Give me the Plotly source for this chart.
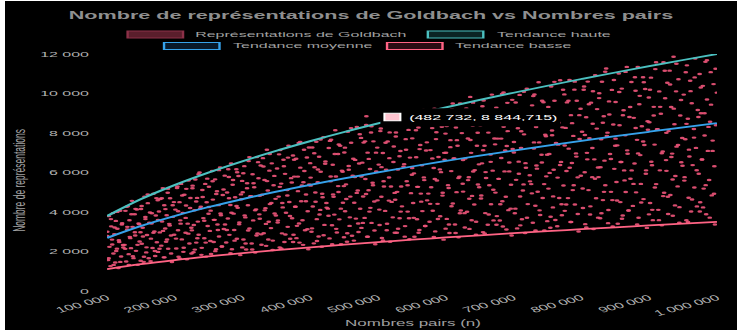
import plotly.graph_objects as go

# ---------------- Données ----------------
nombres_pairs = [
    100400, 101700, 102900, 103600, 105100, 106200, 107400, 108800, 109500, 110900, 112200, 113000, 114600, 115300, 116900, 118100, 119400, 120800, 122300, 123700,
    125900, 127200, 128300, 129800, 130600, 132000, 133100, 134300, 135400, 136800, 137700, 139100, 140900, 141600, 142800, 144000, 145300, 146600, 148100, 149400,
    150200, 151300, 152600, 154100, 155300, 156700, 157900, 159000, 160200, 161500, 163400, 164800, 165700, 167200, 168600, 169900, 171100, 172000, 173500, 174800,
    175400, 176700, 177900, 178600, 180100, 181200, 182400, 183800, 184500, 185900, 187200, 188000, 189600, 190300, 191900, 193100, 194400, 195800, 197300, 198700,
    200900, 202200, 203300, 204800, 205600, 207000, 208100, 209300, 210400, 211800, 212700, 214100, 215900, 216600, 217800, 219000, 220300, 221600, 223100, 224400,
    225200, 226300, 227600, 229100, 230300, 231700, 232900, 234000, 235200, 236500, 238400, 239800, 240700, 242200, 243600, 244900, 246100, 247000, 248500, 249800,
    250400, 251700, 252900, 253600, 255100, 256200, 257400, 258800, 259500, 260900, 262200, 263000, 264600, 265300, 266900, 268100, 269400, 270800, 272300, 273700,
    275900, 277200, 278300, 279800, 280600, 282000, 283100, 284300, 285400, 286800, 287700, 289100, 290900, 291600, 292800, 294000, 295300, 296600, 298100, 299400,
    300200, 301300, 302600, 304100, 305300, 306700, 307900, 309000, 310200, 311500, 313400, 314800, 315700, 317200, 318600, 319900, 321100, 322000, 323500, 324800,
    325400, 326700, 327900, 328600, 330100, 331200, 332400, 333800, 334500, 335900, 337200, 338000, 339600, 340300, 341900, 343100, 344400, 345800, 347300, 348700,
    350900, 352200, 353300, 354800, 355600, 357000, 358100, 359300, 360400, 361800, 362700, 364100, 365900, 366600, 367800, 369000, 370300, 371600, 373100, 374400,
    375200, 376300, 377600, 379100, 380300, 381700, 382900, 384000, 385200, 386500, 388400, 389800, 390700, 392200, 393600, 394900, 396100, 397000, 398500, 399800,
    400400, 401700, 402900, 403600, 405100, 406200, 407400, 408800, 409500, 410900, 412200, 413000, 414600, 415300, 416900, 418100, 419400, 420800, 422300, 423700,
    425900, 427200, 428300, 429800, 430600, 432000, 433100, 434300, 435400, 436800, 437700, 439100, 440900, 441600, 442800, 444000, 445300, 446600, 448100, 449400,
    450200, 451300, 452600, 454100, 455300, 456700, 457900, 459000, 460200, 461500, 463400, 464800, 465700, 467200, 468600, 469900, 471100, 472000, 473500, 474800,
    475400, 476700, 477900, 478600, 480100, 481200, 482400, 482732, 483800, 484500, 485900, 487200, 488000, 489600, 490300, 491900, 493100, 494400, 495800, 497300, 498700,
    500900, 502200, 503300, 504800, 505600, 507000, 508100, 509300, 510400, 511800, 512700, 514100, 515900, 516600, 517800, 519000, 520300, 521600, 523100, 524400,
    525200, 526300, 527600, 529100, 530300, 531700, 532900, 534000, 535200, 536500, 538400, 539800, 540700, 542200, 543600, 544900, 546100, 547000, 548500, 549800,
    550400, 551700, 552900, 553600, 555100, 556200, 557400, 558800, 559500, 560900, 562200, 563000, 564600, 565300, 566900, 568100, 569400, 570800, 572300, 573700,
    575900, 577200, 578300, 579800, 580600, 582000, 583100, 584300, 585400, 586800, 587700, 589100, 590900, 591600, 592800, 594000, 595300, 596600, 598100, 599400,
    600200, 601300, 602600, 604100, 605300, 606700, 607900, 609000, 610200, 611500, 613400, 614800, 615700, 617200, 618600, 619900, 621100, 622000, 623500, 624800,
    625400, 626700, 627900, 628600, 630100, 631200, 632400, 633800, 634500, 635900, 637200, 638000, 639600, 640300, 641900, 643100, 644400, 645800, 647300, 648700,
    650900, 652200, 653300, 654800, 655600, 657000, 658100, 659300, 660400, 661800, 662700, 664100, 665900, 666600, 667800, 669000, 670300, 671600, 673100, 674400,
    675200, 676300, 677600, 679100, 680300, 681700, 682900, 684000, 685200, 686500, 688400, 689800, 690700, 692200, 693600, 694900, 696100, 697000, 698500, 699800,
    700400, 701700, 702900, 703600, 705100, 706200, 707400, 708800, 709500, 710900, 712200, 713000, 714600, 715300, 716900, 718100, 719400, 720800, 722300, 723700,
    725900, 727200, 728300, 729800, 730600, 732000, 733100, 734300, 735400, 736800, 737700, 739100, 740900, 741600, 742800, 744000, 745300, 746600, 748100, 749400,
    750200, 751300, 752600, 754100, 755300, 756700, 757900, 759000, 760200, 761500, 763400, 764800, 765700, 767200, 768600, 769900, 771100, 772000, 773500, 774800,
    775400, 776700, 777900, 778600, 780100, 781200, 782400, 783800, 784500, 785900, 787200, 788000, 789600, 790300, 791900, 793100, 794400, 795800, 797300, 798700,
    800900, 802200, 803300, 804800, 805600, 807000, 808100, 809300, 810400, 811800, 812700, 814100, 815900, 816600, 817800, 819000, 820300, 821600, 823100, 824400,
    825200, 826300, 827600, 829100, 830300, 831700, 832900, 834000, 835200, 836500, 838400, 839800, 840700, 842200, 843600, 844900, 846100, 847000, 848500, 849800,
    850400, 851700, 852900, 853600, 855100, 856200, 857400, 858800, 859500, 860900, 862200, 863000, 864600, 865300, 866900, 868100, 869400, 870800, 872300, 873700,
    875900, 877200, 878300, 879800, 880600, 882000, 883100, 884300, 885400, 886800, 887700, 889100, 890900, 891600, 892800, 894000, 895300, 896600, 898100, 899400,
    900200, 901300, 902600, 904100, 905300, 906700, 907900, 909000, 910200, 911500, 913400, 914800, 915700, 917200, 918600, 919900, 921100, 922000, 923500, 924800,
    925400, 926700, 927900, 928600, 930100, 931200, 932400, 933800, 934500, 935900, 937200, 938000, 939600, 940300, 941900, 943100, 944400, 945800, 947300, 948700,
    950900, 952200, 953300, 954800, 955600, 957000, 958100, 959300, 960400, 961800, 962700, 964100, 965900, 966600, 967800, 969000, 970300, 971600, 973100, 974400,
    975200, 976300, 977600, 979100, 980300, 981700, 982900, 984000, 985200, 986500, 988400, 989800, 990700, 992200, 993600, 994900, 996100, 997000, 998500, 999800,
    100300, 102500, 105800, 107700, 109800, 111200, 113600, 115100, 117500, 119600, 121900, 124100,
    126800, 128900, 130000, 132200, 133600, 136000, 138200, 141100, 142000, 145000, 147600, 149600,
    151100, 153100, 154500, 156600, 158300, 160100, 162500, 164300, 166200, 168500, 170600, 172900,
    175300, 177500, 180800, 182700, 184800, 186200, 188600, 190100, 192500, 194600, 196900, 199100,
    201800, 203900, 205000, 207200, 208600, 211000, 213200, 216100, 217000, 220000, 222600, 224600,
    226100, 228100, 229500, 231600, 233300, 235100, 237500, 239300, 241200, 243500, 245600, 247900,
    250300, 252500, 255800, 257700, 259800, 261200, 263600, 265100, 267500, 269600, 271900, 274100,
    276800, 278900, 280000, 282200, 283600, 286000, 288200, 291100, 292000, 295000, 297600, 299600,
    301100, 303100, 304500, 306600, 308300, 310100, 312500, 314300, 316200, 318500, 320600, 322900,
    325300, 327500, 330800, 332700, 334800, 336200, 338600, 340100, 342500, 344600, 346900, 349100,
    351800, 353900, 355000, 357200, 358600, 361000, 363200, 366100, 367000, 370000, 372600, 374600,
    376100, 378100, 379500, 381600, 383300, 385100, 387500, 389300, 391200, 393500, 395600, 397900,
    400300, 402500, 405800, 407700, 409800, 411200, 413600, 415100, 417500, 419600, 421900, 424100,
    426800, 428900, 430000, 432200, 433600, 436000, 438200, 441100, 442000, 445000, 447600, 449600,
    451100, 453100, 454500, 456600, 458300, 460100, 462500, 464300, 466200, 468500, 470600, 472900,
    475300, 477500, 480800, 482200, 484800, 486200, 488600, 490100, 492500, 494600, 496900, 499100,
    501800, 503900, 505000, 507200, 508600, 511000, 513200, 516100, 517000, 520000, 522600, 524600,
    526100, 528100, 529500, 531600, 533300, 535100, 537500, 539300, 541200, 543500, 545600, 547900,
    550300, 552500, 555800, 557700, 559800, 561200, 563600, 565100, 567500, 569600, 571900, 574100,
    576800, 578900, 580000, 582200, 583600, 586000, 588200, 591100, 592000, 595000, 597600, 599600,
    601100, 603100, 604500, 606600, 608300, 610100, 612500, 614300, 616200, 618500, 620600, 622900,
    625300, 627500, 630800, 632700, 634800, 636200, 638600, 640100, 642500, 644600, 646900, 649100,
    651800, 653900, 655000, 657200, 658600, 661000, 663200, 666100, 667000, 670000, 672600, 674600,
    676100, 678100, 679500, 681600, 683300, 685100, 687500, 689300, 691200, 693500, 695600, 697900,
    700300, 702500, 705800, 707700, 709800, 711200, 713600, 715100, 717500, 719600, 721900, 724100,
    726800, 728900, 730000, 732200, 733600, 736000, 738200, 741100, 742000, 745000, 747600, 749600,
    751100, 753100, 754500, 756600, 758300, 760100, 762500, 764300, 766200, 768500, 770600, 772900,
    775300, 777500, 780800, 782700, 784800, 786200, 788600, 790100, 792500, 794600, 796900, 799100,
    801800, 803900, 805000, 807200, 808600, 811000, 813200, 816100, 817000, 820000, 822600, 824600,
    826100, 828100, 829500, 831600, 833300, 835100, 837500, 839300, 841200, 843500, 845600, 847900,
    850300, 852500, 855800, 857700, 859800, 861200, 863600, 865100, 867500, 869600, 871900, 874100,
    876800, 878900, 880000, 882200, 883600, 886000, 888200, 891100, 892000, 895000, 897600, 899600,
    901100, 903100, 904500, 906600, 908300, 910100, 912500, 914300, 916200, 918500, 920600, 922900,
    925300, 927500, 930800, 932700, 934800, 936200, 938600, 940100, 942500, 944600, 946900, 949100,
    951800, 953900, 955000, 957200, 958600, 961000, 963200, 966100, 967000, 970000, 972600, 974600,
    976100, 978100, 979500, 981600, 983300, 985100, 987500, 989300, 991200, 993500, 995600, 997900,
]

representations = [
    3000, 1565, 3793, 2236, 1260, 3274, 2602, 3945, 1901, 2877, 1443, 3549, 2145, 3152, 1168, 2480, 4067, 1748, 3427, 2328,
    2337, 4058, 1494, 3113, 4294, 1865, 3586, 2675, 2169, 4564, 3248, 1663, 3889, 2810, 2034, 4126, 1325, 3417, 2506, 2978,
    4155, 2394, 3201, 1477, 4779, 3641, 1954, 2834, 4449, 1660, 3972, 2651, 3421, 2174, 4926, 3018, 1770, 3825, 2467, 4595,
    1981, 4029, 2966, 4660, 2296, 3517, 5211, 1705, 4345, 3163, 2493, 3832, 4975, 2138, 3399, 4699, 2808, 1468, 3754, 4502,
    4122, 2150, 5213, 3073, 1731, 4499, 3577, 5422, 2612, 3954, 1982, 4877, 2947, 4332, 1605, 3409, 5590, 2402, 4709, 3199,
    3072, 5333, 1963, 4092, 5644, 2451, 4713, 3515, 2850, 5999, 4269, 2185, 5112, 3692, 2672, 5422, 1741, 4491, 3293, 3914,
    5281, 3043, 4069, 1877, 6073, 4628, 2484, 3602, 5654, 2111, 5048, 3369, 4348, 2763, 6260, 3836, 2250, 4861, 3136, 5840,
    2452, 4990, 3672, 5771, 2843, 4355, 6454, 2111, 5380, 3916, 3087, 4746, 6161, 2647, 4209, 5819, 3477, 1818, 4648, 5575,
    4999, 2608, 6322, 3727, 2099, 5457, 4338, 6576, 3168, 4795, 2405, 5915, 3575, 5253, 1947, 4134, 6779, 2913, 5711, 3880,
    3661, 6357, 2340, 4877, 6727, 2921, 5617, 4190, 3397, 7150, 5089, 2604, 6093, 4401, 3186, 6463, 2076, 5353, 3926, 4666,
    6206, 3576, 4781, 2206, 7137, 5439, 2918, 4233, 6644, 2480, 5932, 3959, 5110, 3247, 7356, 4507, 2644, 5713, 3685, 6863,
    2847, 5793, 4263, 6699, 3300, 5056, 7492, 2451, 6246, 4547, 3584, 5510, 7153, 3074, 4887, 6756, 4037, 2111, 5396, 6473,
    5743, 2997, 7263, 4282, 2412, 6269, 4984, 7555, 3639, 5510, 2763, 6795, 4107, 6035, 2237, 4750, 7789, 3347, 6561, 4458,
    4169, 7238, 2664, 5553, 7659, 3326, 6396, 4771, 3868, 8141, 5794, 2965, 6937, 5011, 3627, 7358, 2364, 6095, 4470, 5312,
    7010, 4039, 5400, 2492, 8062, 6143, 3296, 4781, 7505, 2801, 6700, 4472, 5772, 3667, 8309, 5091, 2987, 6453, 4163, 7752,
    3194, 6498, 4782, 7514, 3702, 5672, 8404, 8844.715, 2749, 7006, 5100, 4020, 6180, 8023, 3448, 5481, 7578, 4528, 2368, 6053, 7260,
    6401, 3339, 8095, 4773, 2688, 6988, 5554, 8421, 4056, 6141, 3079, 7574, 4577, 6727, 2492, 5294, 8682, 3730, 7313, 4968,
    4620, 8023, 2953, 6155, 8490, 3686, 7089, 5288, 4287, 9023, 6422, 3286, 7689, 5554, 4020, 8156, 2619, 6755, 4954, 5888,
    7730, 4454, 5956, 2748, 8891, 6775, 3635, 5273, 8276, 3089, 7389, 4932, 6365, 4045, 9164, 5615, 3294, 7116, 4591, 8549,
    3506, 7133, 5250, 8249, 4064, 6226, 9226, 3017, 7691, 5598, 4413, 6784, 8807, 3785, 6017, 8319, 4971, 2599, 6645, 7970,
    6998, 3651, 8849, 5218, 2939, 7639, 6072, 9206, 4434, 6713, 3366, 8280, 5004, 7354, 2725, 5787, 9490, 4078, 7995, 5431,
    5032, 8738, 3216, 6703, 9246, 4015, 7721, 5759, 4669, 9827, 6994, 3579, 8374, 6050, 4379, 8883, 2853, 7357, 5396, 6413,
    8389, 4834, 6464, 2982, 9649, 7352, 3945, 5723, 8982, 3353, 8019, 5353, 6908, 4390, 9945, 6093, 3575, 7723, 4982, 9278,
    3792, 7716, 5679, 8924, 4396, 6735, 9980, 3264, 8320, 6056, 4773, 7339, 9527, 4094, 6509, 8999, 5377, 2811, 7188, 8622,
    7548, 3938, 9545, 5628, 3170, 8240, 6550, 9929, 4783, 7241, 3631, 8931, 5398, 7932, 2940, 6242, 10237, 4399, 8624, 5858,
    5413, 9399, 3459, 7210, 9946, 4319, 8305, 6194, 5022, 10571, 7523, 3850, 9008, 6507, 4710, 9555, 3068, 7914, 5804, 6898,
    9000, 5186, 6934, 3200, 10351, 7888, 4233, 6140, 9636, 3597, 8603, 5743, 7411, 4710, 10669, 6537, 3836, 8285, 5345, 9954,
    4059, 8258, 6078, 9550, 4705, 7208, 10681, 3493, 8904, 6481, 5109, 7854, 10196, 4382, 6966, 9631, 5755, 3009, 7693, 9227,
    8060, 4205, 10193, 6010, 3385, 8798, 6994, 10603, 5108, 7732, 3877, 9537, 5764, 8470, 3139, 6666, 10931, 4697, 9209, 6256,
    5768, 10016, 3686, 7684, 10598, 4602, 8850, 6601, 5352, 11265, 8017, 4103, 9599, 6934, 5019, 10182, 3270, 8433, 6185, 7351,
    9572, 5516, 7375, 3403, 11009, 8389, 4502, 6530, 10248, 3826, 9150, 6107, 7882, 5009, 11347, 6952, 4079, 8812, 5685, 10586,
    4309, 8767, 6452, 10139, 4995, 7653, 11339, 3709, 9453, 6881, 5424, 8339, 10825, 4652, 7396, 10225, 6110, 3195, 8167, 9796,
    8542, 4456, 10802, 6368, 3587, 9324, 7412, 11236, 5412, 8194, 4108, 10106, 6108, 8976, 3326, 7064, 11584, 4978, 9759, 6629,
    6083, 10545, 3895, 8095, 11158, 4858, 9320, 6958, 5645, 11858, 8445, 4333, 10108, 7308, 5295, 10720, 3458, 8883, 6520, 7745,
    9945, 5764, 7680, 3586, 11425, 8725, 4719, 6809, 10642, 4022, 9509, 6374, 8203, 5241, 11774, 7245, 4283, 9161, 5938, 10990,
    4493, 9001, 6660, 10388, 5186, 7874, 11602, 3886, 9695, 7094, 5620, 8568, 11082, 4840, 7614, 10475, 6314, 3366, 8394, 10042,
    2786, 1656, 3640, 2358, 1321, 3213, 2023, 4006, 2572, 1473, 3365, 2206,
    2135, 4261, 3248, 1325, 2742, 3889, 1764, 2978, 4159, 2337, 3383, 1528,
    4302, 2761, 1734, 3752, 2211, 4889, 3458, 1513, 3935, 2944, 2027, 4705,
    3596, 2138, 4699, 3044, 1705, 4148, 2611, 5172, 3320, 1902, 4345, 2847,
    2654, 5297, 4038, 1647, 3409, 4835, 2192, 3702, 5171, 2905, 4206, 1899,
    5200, 3338, 2096, 4535, 2672, 5910, 4180, 1830, 4757, 3559, 2451, 5688,
    4255, 2530, 5560, 3602, 2017, 4908, 3090, 6120, 3929, 2250, 5141, 3369,
    3087, 6161, 4697, 1915, 3965, 5624, 2550, 4307, 6015, 3379, 4892, 2208,
    5965, 3829, 2405, 5202, 3066, 6779, 4795, 2099, 5457, 4083, 2812, 6525,
    4824, 2868, 6304, 4084, 2287, 5564, 3503, 6939, 4454, 2551, 5829, 3820,
    3466, 6918, 5274, 2151, 4453, 6315, 2864, 4836, 6754, 3795, 5494, 2480,
    6643, 4263, 2677, 5793, 3414, 7549, 5340, 2337, 6076, 4547, 3130, 7266,
    5334, 3172, 6971, 4516, 2529, 6152, 3873, 7672, 4925, 2821, 6445, 4224,
    3808, 7599, 5794, 2364, 4891, 6937, 3146, 5312, 7419, 4169, 6035, 2725,
    7257, 4658, 2925, 6329, 3729, 8247, 5834, 2553, 6638, 4967, 3420, 7938,
    5799, 3448, 7578, 4909, 2749, 6688, 4210, 8340, 5354, 3066, 7006, 4591,
    4121, 8226, 6271, 2557, 5294, 7509, 3404, 5750, 8030, 4512, 6532, 2948,
    7823, 5021, 3153, 6822, 4020, 8890, 6288, 2753, 7155, 5354, 3686, 8556,
    6229, 3704, 8140, 5273, 2953, 7184, 4523, 8959, 5751, 3294, 7526, 4932,
    4413, 8807, 6715, 2738, 5668, 8040, 3645, 6157, 8598, 4831, 6994, 3157,
    8351, 5360, 3366, 7283, 4292, 9490, 6713, 2939, 7639, 5716, 3936, 9134,
    6631, 3943, 8665, 5614, 3144, 7648, 4815, 9537, 6122, 3507, 8011, 5250,
    4686, 9352, 7130, 2908, 6019, 8538, 3871, 6538, 9130, 5130, 7426, 3353,
    8848, 5679, 3566, 7716, 4547, 10056, 7113, 3113, 8094, 6056, 4170, 9678,
    7011, 4169, 9161, 5935, 3324, 8086, 5090, 10083, 6473, 3708, 8470, 5551,
    4944, 9868, 7523, 3068, 6351, 9008, 4084, 6898, 9633, 5413, 7836, 3537,
    9318, 5981, 3756, 8126, 4789, 10590, 7491, 3279, 8524, 6378, 4392, 10192,
    7370, 4382, 9631, 6239, 3493, 8500, 5351, 10600, 6804, 3897, 8904, 5835,
    5190, 10357, 7896, 3221, 6666, 9455, 4287, 7240, 10111, 5682, 8224, 3713,
    9766, 6268, 3936, 8516, 5019, 11098, 7850, 3436, 8933, 6684, 4602, 10682,
    7713, 4586, 10079, 6530, 3657, 8896, 5600, 11093, 7121, 4079, 9319, 6107,
    5424, 10825, 8253, 3366, 6967, 9882, 4481, 7567, 10568, 5938, 8596, 3881,
    10193, 6542, 4108, 8889, 5238, 11584, 8194, 3587, 9324, 6977, 4804, 11150,
    8008, 4770, 10458, 6783, 3808, 9233, 5820, 11508, 7395, 4245, 9670, 6345,
    5590, 11077, 8464, 3499, 7158, 10119, 4632, 7767, 10816, 6112, 8812, 4022,
    10302, 6660, 4233, 9001, 5360, 11689, 8308, 3713, 9435, 7094, 4926, 11255,
]

tendance_n = [100000, 150000, 200000, 250000, 300000, 350000, 400000, 450000, 500000, 550000,
              600000, 650000, 700000, 750000, 800000, 850000, 900000, 950000, 1000000]
tendance_haute = [3795, 4648, 5367, 6000, 6573, 7099, 7589, 8050, 8485, 8899,
                  9295, 9675, 10040, 10392, 10733, 11063, 11384, 11696, 12000]
tendance_moyenne = [2688, 3292, 3801, 4250, 4655, 5029, 5376, 5702, 6010, 6304,
                    6584, 6853, 7112, 7361, 7603, 7837, 8064, 8285, 8500]
tendance_basse = [1107, 1356, 1565, 1750, 1917, 2071, 2214, 2348, 2475, 2596,
                  2711, 2822, 2928, 3031, 3130, 3227, 3320, 3411, 3500]

x_ticks = [100000, 200000, 300000, 400000, 500000, 600000, 700000, 800000, 900000, 1000000]
x_tick_labels = ["100 000", "200 000", "300 000", "400 000", "500 000", "600 000",
                 "700 000", "800 000", "900 000", "1 000 000"]
y_ticks = [0, 2000, 4000, 6000, 8000, 10000, 12000]
y_tick_labels = ["0", "2 000", "4 000", "6 000", "8 000", "10 000", "12 000"]

point_survole_n = 482732
point_survole_r = 8844.715
texte_survol = "(482 732, 8 844,715)"

titre = "Nombre de représentations de Goldbach vs Nombres pairs"
noms_series = ["Représentations de Goldbach", "Tendance haute", "Tendance moyenne", "Tendance basse"]

# ---------------- Mise en page ----------------
FONT = "Liberation Sans, Arial, sans-serif"
W, H = 366, 329
ML, MR, MT, MB = 51, 7, 53, 39
PW, PH = W - ML - MR, H - MT - MB


def px(nx):
    return (nx - ML) / PW


def py(fy):
    return (H - MB - fy) / PH


ROSE = "rgb(255,99,132)"
TURQUOISE = "rgb(75,192,192)"
BLEU = "rgb(54,162,235)"

fig = go.Figure()
fig.add_trace(go.Scatter(
    x=nombres_pairs, y=representations, mode="markers", name=noms_series[0],
    marker=dict(size=2.4, color="rgba(236,84,120,0.92)", line=dict(width=0)),
    showlegend=False, hoverinfo="skip"))
for nom, serie, couleur in [(noms_series[1], tendance_haute, TURQUOISE),
                            (noms_series[2], tendance_moyenne, BLEU),
                            (noms_series[3], tendance_basse, ROSE)]:
    fig.add_trace(go.Scatter(
        x=tendance_n, y=serie, mode="lines", name=nom,
        line=dict(color=couleur, width=1.8, shape="spline"),
        showlegend=False, hoverinfo="skip"))

shapes = []
annotations = []

# légende (deux lignes, centrées)
legende = [
    (noms_series[0], "#5a1e2c", "#8c3048", 61.4, 93.9, 33.5),
    (noms_series[1], "#0b2424", TURQUOISE, 213.0, 245.5, 33.5),
    (noms_series[2], "#08192a", BLEU, 79.8, 112.3, 45.0),
    (noms_series[3], "#2a0c14", ROSE, 192.4, 224.9, 45.0),
]
for nom, fond, bord, bx, tx, cy in legende:
    shapes.append(dict(type="rect", xref="paper", yref="paper",
                       x0=px(bx), x1=px(bx + 28), y0=py(cy + 3.5), y1=py(cy - 3.5),
                       fillcolor=fond, line=dict(color=bord, width=1.2), layer="above"))
    annotations.append(dict(xref="paper", yref="paper", x=px(tx), y=py(cy),
                            xanchor="left", yanchor="middle", showarrow=False,
                            text=nom, font=dict(family=FONT, size=8, color="#a0a0a0")))

# infobulle
shapes.append(dict(type="rect", xref="x", yref="y", xsizemode="pixel", ysizemode="pixel",
                   xanchor=point_survole_n, yanchor=point_survole_r,
                   x0=7, x1=97, y0=-10, y1=8, fillcolor="black", line=dict(width=0), layer="above"))
shapes.append(dict(type="rect", xref="x", yref="y", xsizemode="pixel", ysizemode="pixel",
                   xanchor=point_survole_n, yanchor=point_survole_r,
                   x0=9, x1=17, y0=-4.5, y1=3, fillcolor="#ffc4d0",
                   line=dict(color="white", width=1), layer="above"))
annotations.append(dict(xref="x", yref="y", x=point_survole_n, y=point_survole_r,
                        xanchor="left", yanchor="middle", xshift=19, yshift=-1, showarrow=False,
                        text=texte_survol, font=dict(family=FONT, size=8, color="white")))

# titres des axes
annotations.append(dict(xref="paper", yref="paper", x=0.5, y=py(322), xanchor="center",
                        yanchor="middle", showarrow=False, text="Nombres pairs (n)",
                        font=dict(family=FONT, size=8.5, color="#a0a0a0")))
annotations.append(dict(xref="paper", yref="paper", x=px(6.5), y=py(179), xanchor="center",
                        yanchor="middle", showarrow=False, textangle=-90,
                        text="Nombre de représentations",
                        font=dict(family=FONT, size=8.5, color="#a0a0a0")))

fig.update_layout(
    width=W, height=H, autosize=False,
    margin=dict(l=ML, r=MR, t=MT, b=MB, pad=0),
    paper_bgcolor="black", plot_bgcolor="black",
    title=dict(text="<b>" + titre + "</b>", x=0.5, xref="container", xanchor="center",
               y=1 - 14 / H, yref="container", yanchor="middle",
               font=dict(family=FONT, size=10.8, color="#8f8f8f")),
    showlegend=False, hovermode=False,
    shapes=shapes, annotations=annotations,
    xaxis=dict(range=[100000, 1000000], tickmode="array", tickvals=x_ticks, ticktext=x_tick_labels,
               tickangle=-28, showgrid=False, zeroline=False, showline=False, ticks="",
               tickfont=dict(family=FONT, size=8, color="#b0b0b0")),
    yaxis=dict(range=[0, 12000], tickmode="array", tickvals=y_ticks, ticktext=y_tick_labels,
               showgrid=False, zeroline=False, showline=False, ticks="", ticklabelstandoff=8,
               tickfont=dict(family=FONT, size=8, color="#b0b0b0")),
)

post = """
var gd = document.getElementById('{plot_id}');
document.documentElement.style.background = '#ffffff';
document.body.style.margin = '0';
document.body.style.overflow = 'hidden';
gd.style.width = '366px';
gd.style.height = '329px';
gd.style.transformOrigin = '0 0';
gd.style.transform = 'translate(5px,1px) scale(2,1)';
"""

fig.write_html("out.html", config={"displayModeBar": False, "staticPlot": True}, post_script=post)
